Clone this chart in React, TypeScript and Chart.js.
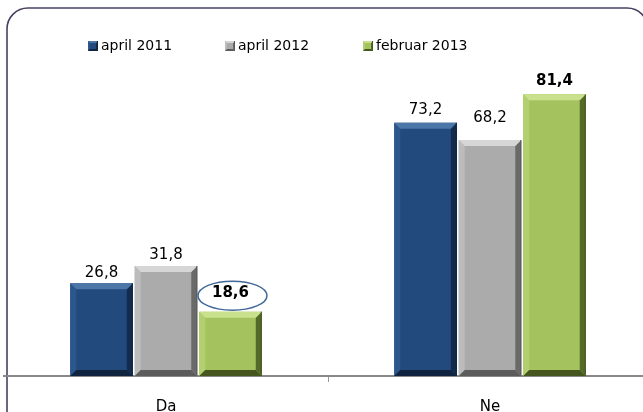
import React, { useEffect, useRef } from "react";
import { Chart, registerables } from "chart.js";

Chart.register(...registerables);

const categories = ["Da", "Ne"];
const seriesNames = ["april 2011", "april 2012", "februar 2013"];
const april2011 = [26.8, 73.2];
const april2012 = [31.8, 68.2];
const februar2013 = [18.6, 81.4];
const valueLabels = [
  ["26,8", "73,2"],
  ["31,8", "68,2"],
  ["18,6", "81,4"],
];

const faceColors = ["#234a7c", "#ababab", "#a4c35f"];
const lightColors = ["#4d76a8", "#d6d6d6", "#c9e08c"];
const sideLight = ["#2c578c", "#bcbcbc", "#b2d06f"];
const darkColors = ["#132c4d", "#6a6a6a", "#55692a"];
const bottomDark = ["#102440", "#5c5c5c", "#46561f"];
// vertical gap (px) between bar top and label centre, per series / category
const labelGap = [
  [10, 13],
  [11, 22],
  [19, 13.5],
];

function bevel(ctx: CanvasRenderingContext2D, left: number, top: number, right: number, bottom: number, b: number, i: number) {
  const poly = (pts: number[][], color: string) => {
    ctx.beginPath();
    ctx.moveTo(pts[0][0], pts[0][1]);
    for (let k = 1; k < pts.length; k++) ctx.lineTo(pts[k][0], pts[k][1]);
    ctx.closePath();
    ctx.fillStyle = color;
    ctx.fill();
  };
  poly([[left, top], [left + b, top + b], [left + b, bottom - b], [left, bottom]], sideLight[i]);
  poly([[right, top], [right, bottom], [right - b, bottom - b], [right - b, top + b]], darkColors[i]);
  poly([[left, bottom], [right, bottom], [right - b, bottom - b], [left + b, bottom - b]], bottomDark[i]);
  poly([[left, top], [right, top], [right - b, top + b], [left + b, top + b]], lightColors[i]);
  ctx.strokeStyle = bottomDark[i];
  ctx.lineWidth = 1;
  ctx.beginPath();
  ctx.moveTo(right - 0.5, top);
  ctx.lineTo(right - 0.5, bottom);
  ctx.stroke();
}

const decorPlugin = {
  id: "decor",
  beforeDraw(chart: any) {
    const ctx = chart.ctx as CanvasRenderingContext2D;
    ctx.save();
    ctx.fillStyle = "#ffffff";
    ctx.fillRect(0, 0, chart.width, chart.height);
    const x = 7, y = 8, w = 641, h = 440, r = 21;
    ctx.beginPath();
    ctx.moveTo(x + r, y);
    ctx.lineTo(x + w - r, y);
    ctx.arcTo(x + w, y, x + w, y + r, r);
    ctx.lineTo(x + w, y + h);
    ctx.lineTo(x, y + h);
    ctx.lineTo(x, y + r);
    ctx.arcTo(x, y, x + r, y, r);
    ctx.closePath();
    ctx.strokeStyle = "#4a4060";
    ctx.lineWidth = 1.6;
    ctx.stroke();
    ctx.restore();
  },
  afterDatasetsDraw(chart: any) {
    const ctx = chart.ctx as CanvasRenderingContext2D;
    ctx.save();
    chart.data.datasets.forEach((ds: any, i: number) => {
      const meta = chart.getDatasetMeta(i);
      meta.data.forEach((bar: any, j: number) => {
        const p = bar.getProps(["x", "y", "base", "width"], true);
        const left = p.x - p.width / 2;
        const right = p.x + p.width / 2;
        bevel(ctx, left, p.y, right, p.base, 6, i);
        const bold = i === 2;
        ctx.font = (bold ? "bold " : "") + "15px 'DejaVu Sans'";
        ctx.fillStyle = "#000000";
        ctx.textAlign = "center";
        ctx.textBaseline = "middle";
        const highlight = i === 2 && j === 0;
        const ly = p.y - labelGap[i][j];
        ctx.fillText(valueLabels[i][j], p.x, ly);
        if (highlight) {
          ctx.beginPath();
          ctx.ellipse(p.x + 2, ly + 3, 34.5, 14.5, 0, 0, Math.PI * 2);
          ctx.strokeStyle = "#41689a";
          ctx.lineWidth = 1.5;
          ctx.stroke();
        }
      });
    });
    ctx.restore();
  },
  afterDraw(chart: any) {
    const ctx = chart.ctx as CanvasRenderingContext2D;
    ctx.save();
    const xs = [88, 225, 363];
    seriesNames.forEach((name, i) => {
      const sx = xs[i], sy = 41;
      ctx.fillStyle = faceColors[i];
      ctx.fillRect(sx, sy, 10, 10);
      bevel(ctx, sx, sy, sx + 10, sy + 10, 2, i);
      ctx.font = "14px 'DejaVu Sans'";
      ctx.fillStyle = "#000000";
      ctx.textAlign = "left";
      ctx.textBaseline = "middle";
      ctx.fillText(name, sx + 13, 46);
    });
    ctx.restore();
  },
};

export default function App() {
  const ref = useRef<HTMLCanvasElement | null>(null);
  useEffect(() => {
    document.body.style.margin = "0";
    Chart.defaults.font.family = "'DejaVu Sans'";
    const c = new Chart(ref.current as HTMLCanvasElement, {
      type: "bar",
      data: {
        labels: categories,
        datasets: [
          { label: seriesNames[0], data: april2011, backgroundColor: faceColors[0] },
          { label: seriesNames[1], data: april2012, backgroundColor: faceColors[1] },
          { label: seriesNames[2], data: februar2013, backgroundColor: faceColors[2] },
        ],
      },
      options: {
        responsive: false,
        animation: false,
        layout: { padding: { left: 4, right: 8, top: 30, bottom: 0 } },
        datasets: { bar: { categoryPercentage: 0.597, barPercentage: 0.97 } },
        plugins: { legend: { display: false }, tooltip: { enabled: false } },
        scales: {
          y: { display: false, min: 0, max: 100 },
          x: {
            afterFit(scale: any) {
              scale.height = 36;
            },
            border: { color: "#888888", width: 2 },
            grid: {
              offset: true,
              drawOnChartArea: false,
              tickLength: 6,
              tickWidth: 1,
              color: (ctx: any) => (ctx.index === 1 ? "#999999" : "rgba(0,0,0,0)"),
            },
            ticks: { color: "#000000", font: { size: 15 }, padding: 16 },
          },
        },
      },
      plugins: [decorPlugin],
    });
    return () => c.destroy();
  }, []);
  return (
    <div style={{ position: "fixed", left: 0, top: 0, width: 643, height: 412, overflow: "hidden", background: "#fff" }}>
      <canvas ref={ref} width={660} height={412} style={{ width: 660, height: 412, display: "block" }} />
    </div>
  );
}
